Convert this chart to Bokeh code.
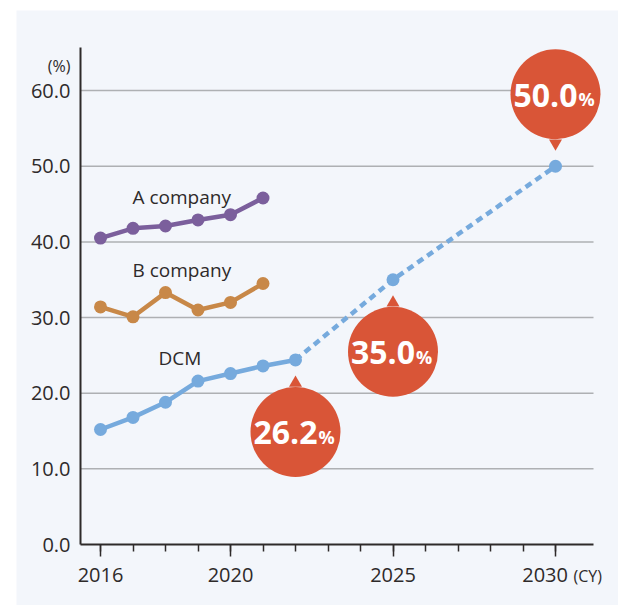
from bokeh.plotting import figure
from bokeh.models import FixedTicker, Range1d, Label, BoxAnnotation
from bokeh.core.properties import value
from bokeh.embed import file_html
from bokeh.resources import INLINE

# ---------------- data ----------------
years_ab = [2016, 2017, 2018, 2019, 2020, 2021]
a_company = [40.5, 41.8, 42.1, 42.9, 43.6, 45.8]
b_company = [31.4, 30.1, 33.3, 31.0, 32.0, 34.5]
dcm_years = [2016, 2017, 2018, 2019, 2020, 2021, 2022]
dcm = [15.2, 16.8, 18.8, 21.6, 22.6, 23.6, 24.4]
target_years = [2022, 2025, 2030]
target_values = [24.4, 35.0, 50.0]
target_labels = ["26.2", "35.0", "50.0"]
series_names = ["A company", "B company", "DCM"]
x_ticks = [2016, 2020, 2025, 2030]
x_tick_labels = ["2016", "2020", "2025", "2030\u00a0\u00a0\u00a0\u00a0"]
x_minor = list(range(2016, 2031))
y_ticks = [0, 10, 20, 30, 40, 50, 60]
y_tick_labels = ["0.0", "10.0", "20.0", "30.0", "40.0", "50.0", "60.0"]

# ---------------- style ----------------
BG = "#f3f6fb"
INK = "#2e2a2a"
C_A = "#7b5f9c"
C_B = "#c88848"
C_D = "#76aadd"
RED = "#d95537"
GRID = "#aeb0b3"
FONT = "Open Sans"

# figure geometry (page pixels); the frame fills the whole figure
ORG_X, ORG_Y = 0, 0
W, H = 618, 605
PPX = 32.5      # px per year
PPY = 7.565     # px per percentage point
AX_X, AX_Y = 80, 544   # page position of the axes' corner
X_REF = 100            # page x of the first year


def px2x(px):
    return x_ticks[0] + (px - X_REF) / PPX


def px2y(py):
    return y_ticks[0] + (AX_Y - py) / PPY


X0, X1 = px2x(ORG_X), px2x(ORG_X + W)
Y0, Y1 = px2y(ORG_Y + H), px2y(ORG_Y)

p = figure(width=W, height=H, output_backend="svg", toolbar_location=None,
           x_range=Range1d(X0, X1), y_range=Range1d(Y0, Y1),
           min_border=0)
p.background_fill_color = "white"
p.border_fill_color = "white"
p.outline_line_color = None

# panel background
p.add_layout(BoxAnnotation(left=px2x(16), top=px2y(10), fill_color=BG,
                           fill_alpha=1, line_color=None, level="underlay"))

x_axis_end = px2x(593)
y_axis_top = px2y(47)

# axes (fixed inside the frame)
xa = p.xaxis[0]
xa.fixed_location = 0
xa.bounds = (px2x(AX_X), x_axis_end)
xa.ticker = FixedTicker(ticks=x_ticks, minor_ticks=x_minor)
xa.major_label_overrides = {t: l for t, l in zip(x_ticks, x_tick_labels)}
xa.axis_line_color = INK
xa.axis_line_width = 2
xa.major_tick_line_color = INK
xa.major_tick_line_width = 1.5
xa.minor_tick_line_color = INK
xa.minor_tick_line_width = 1.5
xa.major_tick_out = 12
xa.major_tick_in = 0
xa.minor_tick_out = 7
xa.minor_tick_in = 0
xa.major_label_standoff = 4
xa.major_label_text_font = FONT
xa.major_label_text_font_size = "20px"
xa.major_label_text_color = INK

ya = p.yaxis[0]
ya.fixed_location = px2x(AX_X)
ya.bounds = (0, y_axis_top)
ya.ticker = FixedTicker(ticks=y_ticks)
ya.major_label_overrides = {t: l for t, l in zip(y_ticks, y_tick_labels)}
ya.axis_line_color = INK
ya.axis_line_width = 2
ya.major_tick_line_color = None
ya.minor_tick_line_color = None
ya.major_tick_out = 0
ya.major_tick_in = 0
ya.major_label_standoff = 10
ya.major_label_text_font = FONT
ya.major_label_text_font_size = "20px"
ya.major_label_text_color = INK

p.xgrid.grid_line_color = None
p.ygrid.grid_line_color = None

# horizontal grid lines between the axes
p.segment(x0=[px2x(AX_X)] * (len(y_ticks) - 1), x1=[x_axis_end] * (len(y_ticks) - 1),
          y0=y_ticks[1:], y1=y_ticks[1:], line_color=GRID, line_width=1.5)

# series lines
p.line(years_ab, a_company, line_color=C_A, line_width=4.5)
p.scatter(years_ab, a_company, size=13, fill_color=C_A, line_color=None)
p.line(years_ab, b_company, line_color=C_B, line_width=4.5)
p.scatter(years_ab, b_company, size=13, fill_color=C_B, line_color=None)
p.line(target_years, target_values, line_color=C_D, line_width=4.5,
       line_dash="7 5", line_cap="butt")
p.line(dcm_years, dcm, line_color=C_D, line_width=4.5)
p.scatter(dcm_years, dcm, size=13, fill_color=C_D, line_color=None)
p.scatter(target_years[1:], target_values[1:], size=13, fill_color=C_D, line_color=None)

# series labels (page px positions)
label_px = [(132, 196), (132, 269), (158, 357)]
for name, (lx, ly) in zip(series_names, label_px):
    p.add_layout(Label(x=px2x(lx), y=px2y(ly), text=name, text_font=FONT,
                       text_font_size="19px", text_color=INK,
                       text_align="left", text_baseline="alphabetic"))

# bubbles
side = [-1, -1, 1]  # -1 below, +1 above
OFF, R = 72, 45
for yr, v, lab, s in zip(target_years, target_values, target_labels, side):
    cy = v + s * OFF / PPY
    ty = v + s * 23 / PPY
    p.circle([yr], [cy], radius=R, radius_units="screen",
             fill_color=RED, line_color=None)
    p.scatter([yr], [ty], marker="inverted_triangle" if s > 0 else "triangle",
              size=13, fill_color=RED, line_color=None)
    p.text([yr], [cy], text=[lab], text_font=value(FONT), text_font_style="bold",
           text_font_size="32px", text_color="white", text_align="right",
           text_baseline="middle", x_offset=22, y_offset=1)
    p.text([yr], [cy], text=["%"], text_font=value(FONT), text_font_style="bold",
           text_font_size="18px", text_color="white", text_align="left",
           text_baseline="middle", x_offset=23, y_offset=5)

# unit labels
p.add_layout(Label(x=px2x(70), y=px2y(65), text="(%)",
                   text_font=FONT, text_font_size="16px", text_color=INK,
                   text_align="right", text_baseline="middle"))
p.add_layout(Label(x=px2x(573), y=px2y(575.5), text="(CY)",
                   text_font=FONT, text_font_size="16px", text_color=INK,
                   text_align="left", text_baseline="middle"))

open("out.html", "w").write(file_html(p, INLINE))
